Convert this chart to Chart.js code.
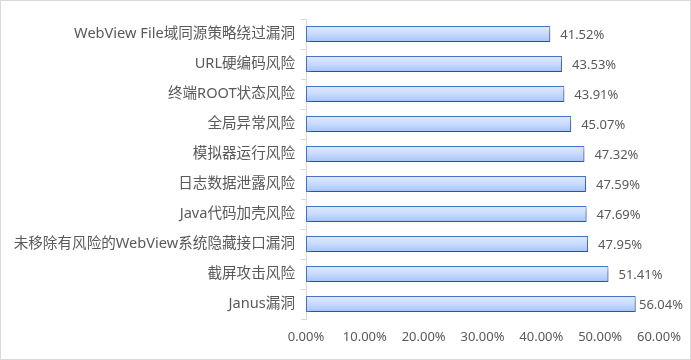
<!DOCTYPE html>
<html>
<head>
<meta charset="utf-8">
<script src="https://cdn.jsdelivr.net/npm/chart.js@4"></script>
<style>
html,body{margin:0;padding:0;background:#fff;}
#wrap{width:691px;height:360px;position:relative;}
</style>
</head>
<body>
<div id="wrap"><canvas id="c" width="691" height="360"></canvas></div>
<script>
const categories = [
  "WebView File域同源策略绕过漏洞",
  "URL硬编码风险",
  "终端ROOT状态风险",
  "全局异常风险",
  "模拟器运行风险",
  "日志数据泄露风险",
  "Java代码加壳风险",
  "未移除有风险的WebView系统隐藏接口漏洞",
  "截屏攻击风险",
  "Janus漏洞"
];
const values = [41.52, 43.53, 43.91, 45.07, 47.32, 47.59, 47.69, 47.95, 51.41, 56.04];
const xTickMax = 60;
const xTickStep = 10;

const FONT = "'Noto Sans','Noto Sans CJK SC',sans-serif";
const TEXT = '#595959';

function barFill(context){
  const chart = context.chart;
  const ys = chart.scales && chart.scales.y;
  if (!chart.chartArea || !ys) return '#c5d7f8';
  const yc = ys.getPixelForValue(context.dataIndex);
  const h = 8;
  const g = chart.ctx.createLinearGradient(0, yc - h, 0, yc + h);
  g.addColorStop(0, '#dfeaff');
  g.addColorStop(0.5, '#c8dbfe');
  g.addColorStop(1, '#a4c2fa');
  return g;
}

const shadowPlugin = {
  id: 'shadow',
  beforeDatasetsDraw(chart){
    const ctx = chart.ctx;
    ctx.save();
    ctx.shadowColor = 'rgba(0,0,0,0.4)';
    ctx.shadowOffsetX = 1.5;
    ctx.shadowOffsetY = 2.5;
    ctx.shadowBlur = 3;
  },
  afterDatasetsDraw(chart){
    chart.ctx.restore();
  }
};

const labelPlugin = {
  id: 'valueLabels',
  afterDatasetsDraw(chart){
    const ctx = chart.ctx;
    const meta = chart.getDatasetMeta(0);
    ctx.save();
    ctx.font = '13px ' + FONT;
    ctx.fillStyle = TEXT;
    ctx.textBaseline = 'middle';
    ctx.textAlign = 'left';
    meta.data.forEach((bar, i) => {
      const txt = values[i].toFixed(2) + '%';
      const w = ctx.measureText(txt).width;
      let x = bar.x + 10;
      if (x + w > chart.width - 8) x = Math.max(bar.x + 2, chart.width - 8 - w);
      ctx.fillText(txt, x, bar.y + 1);
    });
    ctx.restore();
  }
};

const framePlugin = {
  id: 'frame',
  afterDraw(chart){
    const ctx = chart.ctx;
    ctx.save();
    ctx.strokeStyle = '#d9d9d9';
    ctx.lineWidth = 1;
    ctx.strokeRect(0.5, 0.5, chart.width - 1, chart.height - 1);
    ctx.restore();
  }
};

new Chart(document.getElementById('c'), {
  type: 'bar',
  data: {
    labels: categories,
    datasets: [{
      data: values,
      backgroundColor: barFill,
      borderColor: '#4472c4',
      borderWidth: 1,
      borderSkipped: false,
      barPercentage: 0.53,
      categoryPercentage: 1
    }]
  },
  options: {
    indexAxis: 'y',
    responsive: false,
    animation: false,
    devicePixelRatio: 1,
    layout: { padding: { left: 0, right: 32, top: 19, bottom: 0 } },
    plugins: { legend: { display: false }, tooltip: { enabled: false } },
    scales: {
      x: {
        min: 0, max: xTickMax,
        ticks: {
          stepSize: xTickStep,
          color: TEXT,
          font: { size: 13, family: FONT },
          padding: 10,
          callback: v => v.toFixed(2) + '%'
        },
        grid: { display: false, drawTicks: false },
        border: { display: false },
        afterFit(s){ s.height = 41; }
      },
      y: {
        offset: true,
        ticks: {
          color: TEXT,
          font: { size: 14.6, family: FONT },
          padding: 6,
          autoSkip: false
        },
        grid: { drawOnChartArea: false, drawTicks: true, tickLength: 5, color: '#d9d9d9', offset: true },
        border: { display: true, color: '#d9d9d9' },
        afterFit(s){ s.width = 306; }
      }
    }
  },
  plugins: [shadowPlugin, labelPlugin, framePlugin]
});
</script>
</body>
</html>
